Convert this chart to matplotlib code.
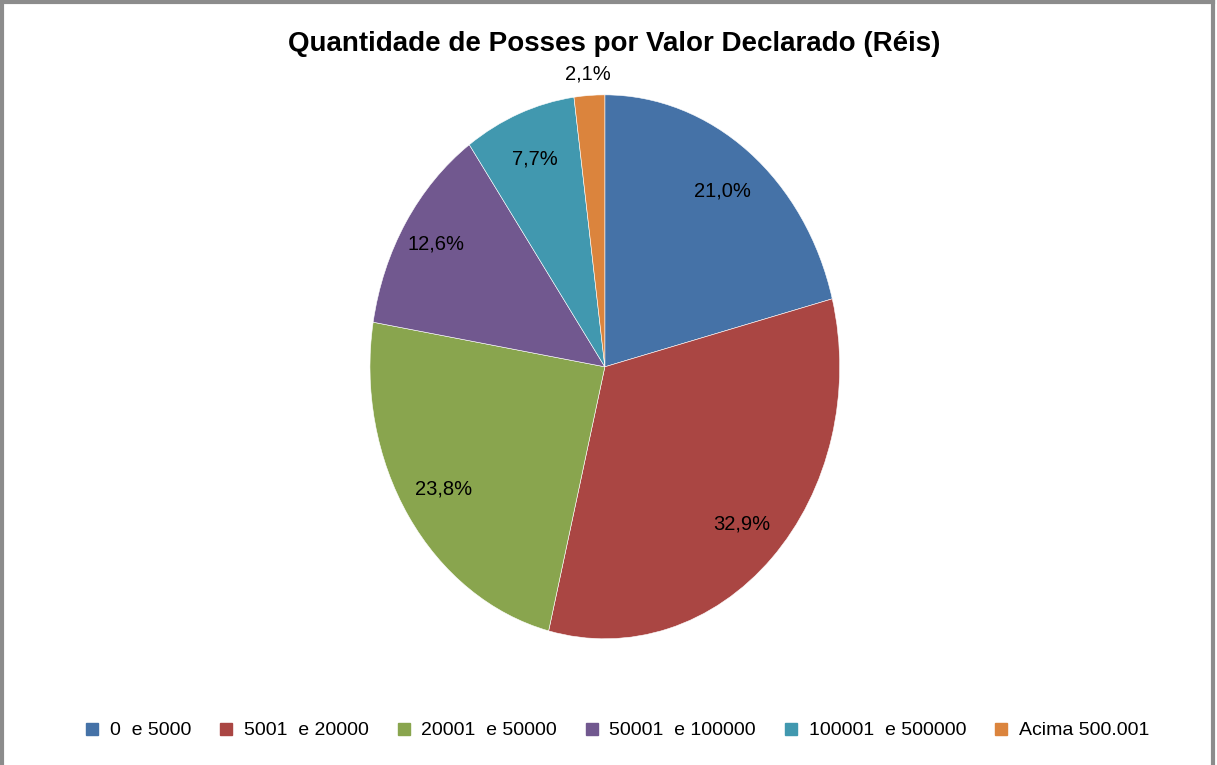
import matplotlib.pyplot as plt
from matplotlib.lines import Line2D
import numpy as np

categories = ['0  e 5000', '5001  e 20000', '20001  e 50000', '50001  e 100000',
              '100001  e 500000', 'Acima 500.001']
shares = [21.0, 32.9, 23.8, 12.6, 7.7, 2.1]
colors = ['#4572A7', '#AA4643', '#89A54E', '#71588F', '#4198AF', '#DB843D']
title = 'Quantidade de Posses por Valor Declarado (Réis)'

plt.rcParams['font.family'] = ['Liberation Sans', 'DejaVu Sans']

fig = plt.figure(figsize=(12.17, 7.65), dpi=100)
fig.patch.set_facecolor('white')

# pie area is stretched vertically in the original
ax = fig.add_axes([0.304, 0.165, 0.386, 0.711])
wedges, _ = ax.pie(shares, colors=colors, startangle=90, counterclock=False,
                   radius=1, wedgeprops=dict(edgecolor='white', linewidth=0.4))
ax.set_aspect('auto')
ax.set_xlim(-1, 1)
ax.set_ylim(-1, 1)
ax.axis('off')

total = sum(shares)
start = 90.0
for i, v in enumerate(shares):
    ang = start - v / total * 360 / 2
    start -= v / total * 360
    r = 0.82 if i < len(shares) - 1 else 1.08
    if i == 3:
        r = 0.85
    x = r * np.cos(np.radians(ang))
    y = r * np.sin(np.radians(ang))
    ax.text(x, y, f'{v:.1f}%'.replace('.', ','), ha='center', va='center',
            fontsize=14.5, color='black', clip_on=False)

fig.text(0.505, 0.943, title, ha='center', va='center', fontsize=20,
         fontweight='bold')

handles = [Line2D([], [], marker='s', linestyle='none', markersize=9,
                  markerfacecolor=c, markeredgecolor=c) for c in colors]
fig.legend(handles, categories, loc='center', bbox_to_anchor=(0.506, 0.045),
           ncol=6, frameon=False, fontsize=14, handletextpad=0.4,
           columnspacing=1.3, handlelength=1.0)

# grey frame around the chart area
border = dict(color='#8c8c8c', linewidth=3, transform=fig.transFigure)
fig.add_artist(Line2D([0.002, 0.002], [0, 0.997], **border))
fig.add_artist(Line2D([0.002, 0.997], [0.997, 0.997], **border))
fig.add_artist(Line2D([0.997, 0.997], [0, 0.997], **border))

fig.savefig('out.png', dpi=100, facecolor='white')
